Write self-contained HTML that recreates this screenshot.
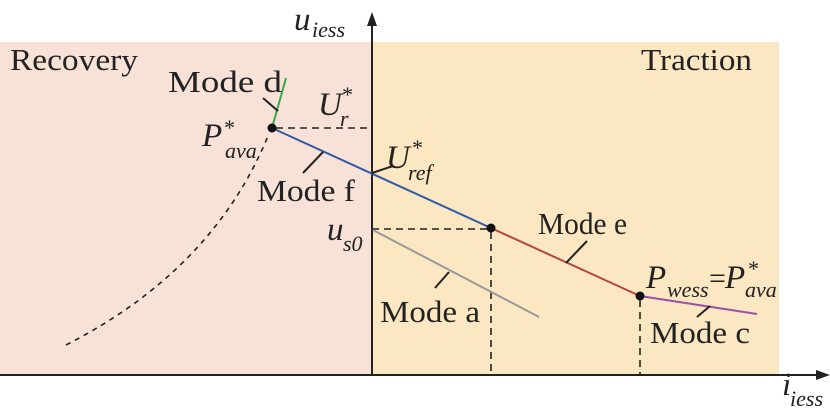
<!DOCTYPE html>
<html><head><style>
html,body{margin:0;padding:0;background:#fff}
svg{display:block}
text{font-family:"Liberation Serif",serif;fill:#222}
.it{font-style:italic}
</style></head><body>
<svg width="830" height="420" viewBox="0 0 830 420">
<rect x="0" y="42" width="372" height="333" fill="#f8e2d7"/>
<rect x="372" y="42" width="407" height="333" fill="#fbe7c2"/>
<line x1="0" y1="375" x2="820" y2="375" stroke="#222" stroke-width="2"/>
<polygon points="830,375 816,370 816,380" fill="#222"/>
<line x1="372" y1="375" x2="372" y2="22" stroke="#222" stroke-width="2"/>
<polygon points="372,12 367,26 377,26" fill="#222"/>
<g stroke="#222" stroke-width="1.6" stroke-dasharray="7,5" fill="none">
<line x1="276" y1="128" x2="372" y2="128"/>
<line x1="372" y1="229" x2="491" y2="229"/>
<line x1="491" y1="232" x2="491" y2="375"/>
<line x1="640" y1="300" x2="640" y2="375"/>
</g>
<path d="M66,345 Q213,270 268,136" stroke="#222" stroke-width="1.6" stroke-dasharray="5,5" fill="none"/>
<line x1="272" y1="128" x2="491" y2="228" stroke="#2f5aa8" stroke-width="2"/>
<line x1="491" y1="228" x2="640" y2="296" stroke="#b5473b" stroke-width="2"/>
<line x1="640" y1="296" x2="757" y2="314" stroke="#9a4fa6" stroke-width="2"/>
<line x1="373" y1="230" x2="539" y2="317" stroke="#999" stroke-width="2"/>
<line x1="272" y1="128" x2="286" y2="78" stroke="#3aa64a" stroke-width="2"/>
<circle cx="272" cy="128" r="4.5" fill="#111"/>
<circle cx="491" cy="228" r="4.5" fill="#111"/>
<circle cx="640" cy="296" r="4.5" fill="#111"/>
<g stroke="#222" stroke-width="2">
<line x1="263" y1="98" x2="278" y2="111"/>
<line x1="303" y1="173" x2="323" y2="152"/>
<line x1="372" y1="173" x2="393" y2="166"/>
<line x1="435" y1="288" x2="449" y2="272"/>
<line x1="566" y1="263" x2="587" y2="241"/>
<line x1="697" y1="317" x2="710" y2="306"/>
</g>
<g font-size="31">
<text x="10" y="70" textLength="128" lengthAdjust="spacingAndGlyphs">Recovery</text>
<text x="641" y="70" textLength="111" lengthAdjust="spacingAndGlyphs">Traction</text>
<text x="168" y="92" textLength="114" lengthAdjust="spacingAndGlyphs">Mode d</text>
<text x="257" y="201" textLength="98" lengthAdjust="spacingAndGlyphs">Mode f</text>
<text x="380" y="322" textLength="100" lengthAdjust="spacingAndGlyphs">Mode a</text>
<text x="538" y="234" textLength="89" lengthAdjust="spacingAndGlyphs">Mode e</text>
<text x="650" y="343" textLength="100" lengthAdjust="spacingAndGlyphs">Mode c</text>
</g>
<g class="it">
<text x="294" y="30" font-size="33">u</text><text x="312" y="37" font-size="22">iess</text>
<text x="782" y="395" font-size="33">i</text><text x="790" y="406" font-size="22">iess</text>
<text x="318" y="115" font-size="33">U</text><text x="341" y="102" font-size="22">*</text><text x="340" y="126" font-size="22">r</text>
<text x="202" y="146" font-size="33">P</text><text x="223" y="135" font-size="22">*</text><text x="225" y="158" font-size="22">ava</text>
<text x="386" y="168" font-size="33">U</text><text x="411" y="155" font-size="22">*</text><text x="408" y="180" font-size="22">ref</text>
<text x="327" y="240" font-size="33">u</text><text x="343" y="251" font-size="22">s0</text>
<text x="646" y="288" font-size="33">P</text><text x="667" y="297" font-size="22">wess</text>
<text x="709" y="288" font-size="30" font-style="normal">=</text>
<text x="725" y="288" font-size="33">P</text><text x="747" y="276" font-size="22">*</text><text x="745" y="297" font-size="22">ava</text>
</g>
</svg>
</body></html>
